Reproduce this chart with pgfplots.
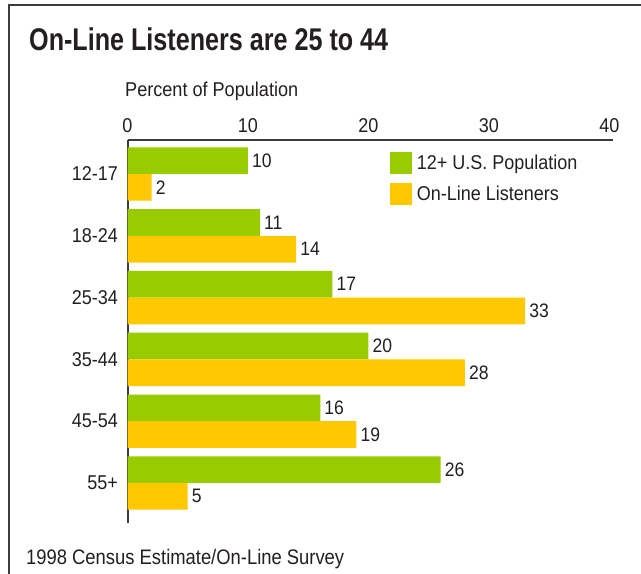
\documentclass[border=0pt]{standalone}
\usepackage{pgfplots}
\pgfplotsset{compat=1.18}
\usepackage{fontspec}
\setmainfont{Liberation Sans}[FakeStretch=0.9]
\definecolor{tx}{HTML}{231F20}
\definecolor{grn}{HTML}{99CC00}
\definecolor{yel}{HTML}{FFC800}
\definecolor{frm}{HTML}{3C3C3C}
\newcommand\hfit[2]{\sbox0{#2}\pgfmathsetmacro\hf{(#1)/\wd0}\scalebox{\hf}[1]{\usebox0}}
\newcommand\labfont{\fontsize{20bp}{24bp}\selectfont}
\newcommand\valfont{\fontsize{19.5bp}{23bp}\selectfont}
\begin{document}
\begin{tikzpicture}[x=1bp,y=1bp]
\useasboundingbox (0,0) rectangle (641,574);
\draw[frm, line width=2.5bp] (9,0) -- (9,569) -- (641,569);
\node[anchor=base west, inner sep=0pt, text=tx] at (29,523) {\fontsize{31.4bp}{36bp}\selectfont\bfseries\hfit{359bp}{On-Line Listeners are 25 to 44}};
\node[anchor=base west, inner sep=0pt, text=tx] at (125,477.3) {\labfont\hfit{173bp}{Percent of Population}};
\node[anchor=base west, inner sep=0pt, text=tx] at (26,9.3) {\fontsize{21bp}{25bp}\selectfont\hfit{318bp}{1998 Census Estimate/On-Line Survey}};
\begin{axis}[
  at={(127.5bp,51bp)}, anchor=south west,
  scale only axis, width=485.5bp, height=383.4bp,
  xmin=0, xmax=40.3, ymin=-0.647, ymax=5.557,
  axis x line*=top, axis y line*=left,
  axis line style={frm, line width=2bp},
  xbar, bar width=26.7bp,
  xtick={0,10,20,30,40},
  ytick={0,1,2,3,4,5},
  yticklabels={55+,45-54,35-44,25-34,18-24,12-17},
  major tick length=0pt,
  /pgf/number format/assume math mode=true,
  xticklabel style={anchor=south, inner sep=0pt, yshift=7bp, font=\labfont, text=tx},
  yticklabel style={anchor=east, inner sep=0pt, xshift=-9.5bp, font=\labfont, text=tx},
  nodes near coords={\valfont\pgfmathprintnumber{\pgfplotspointmeta}},
  every node near coord/.append style={anchor=west, xshift=4bp, inner sep=0pt, text=tx},
  legend style={draw=none, fill=none, at={(0.5407,0.9669)}, anchor=north west,
    inner sep=0pt, row sep=9.3bp, font=\labfont, text=tx,
    nodes={inner sep=0pt},
    /tikz/every odd column/.append style={column sep=5bp}},
  legend cell align=left,
]
\addplot[fill=grn, draw=none, bar shift=13.35bp,
  legend image code/.code={\fill[grn] (0bp,-10.85bp) rectangle (21.7bp,10.85bp);}]
  coordinates {(10,5) (11,4) (17,3) (20,2) (16,1) (26,0)};
\addlegendentry{12+ U.S. Population}
\addplot[fill=yel, draw=none, bar shift=-13.35bp,
  legend image code/.code={\fill[yel] (0bp,-10.85bp) rectangle (21.7bp,10.85bp);}]
  coordinates {(2,5) (14,4) (33,3) (28,2) (19,1) (5,0)};
\addlegendentry{On-Line Listeners}
\end{axis}
\end{tikzpicture}
\end{document}
